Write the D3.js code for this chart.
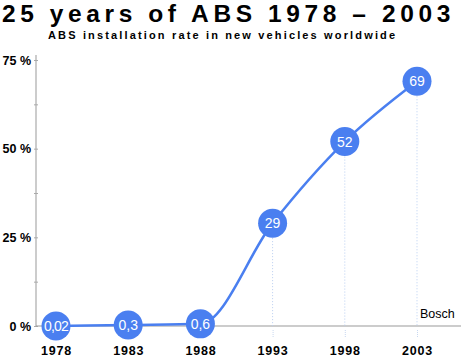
<!DOCTYPE html>
<html><head><meta charset="utf-8">
<script src="https://cdn.jsdelivr.net/npm/d3@7"></script>
<style>body{margin:0;background:#fff}svg{display:block;font-family:"Liberation Sans",Arial,sans-serif}</style>
</head><body>
<svg id="c" width="461" height="358"></svg>
<script>
const years = ["1978","1983","1988","1993","1998","2003"];
const values = [0.02, 0.3, 0.6, 29, 52, 69];
const valueLabels = ["0,02","0,3","0,6","29","52","69"];
const yTicks = [0, 12.5, 25, 37.5, 50, 62.5, 75];
const yTickLabels = {0:"0 %",25:"25 %",50:"50 %",75:"75 %"};

const svg = d3.select("#c");
const blue = "#4a7ff0";
const x = d3.scalePoint().domain(years).range([56, 417]);
const y = d3.scaleLinear().domain([0, 75]).range([326, 60]);

svg.append("text").attr("x", 2).attr("y", 22).attr("font-size", 24.5).attr("font-weight", "bold")
  .attr("letter-spacing", 4.6).attr("fill", "#000").text("25 years of ABS 1978 – 2003");
svg.append("text").attr("x", 48).attr("y", 39).attr("font-size", 11)
  .attr("font-weight", "bold").attr("letter-spacing", 2.15).attr("fill", "#000").text("ABS installation rate in new vehicles worldwide");

// y axis
const yAxis = d3.axisLeft(y).tickValues(yTicks).tickSize(3).tickFormat(d => yTickLabels[d] || "");
const gy = svg.append("g").attr("transform", "translate(36,0)").call(yAxis);
gy.select(".domain").attr("stroke", "#999").attr("d", "M0,55V326");
gy.selectAll(".tick line").attr("stroke", "#aaa").attr("x2", 2).attr("x1", -2);
gy.selectAll(".tick text").attr("font-size", 12.5).attr("font-weight", "bold").attr("fill", "#000")
  .attr("x", -5).attr("font-family", "Liberation Sans, Arial, sans-serif");

// x axis
const xAxis = d3.axisBottom(x).tickSize(0).tickPadding(20);
const gx = svg.append("g").attr("transform", "translate(0,326)").call(xAxis);
gx.select(".domain").attr("stroke", "#999").attr("d", "M36,0H461");
gx.selectAll(".tick text").attr("font-size", 12.5).attr("font-weight", "bold").attr("fill", "#000")
  .attr("letter-spacing", 0.8).attr("font-family", "Liberation Sans, Arial, sans-serif");
gx.selectAll(".tick").append("line").attr("y1", 4).attr("y2", 12).attr("stroke", "#c8d8f0").attr("stroke-dasharray", "1,1");

// dotted drop lines
const data = years.map((yr, i) => ({yr, v: values[i], lab: valueLabels[i]}));
svg.append("g").selectAll("line").data(data).join("line")
  .attr("x1", d => x(d.yr)).attr("x2", d => x(d.yr))
  .attr("y1", d => y(d.v)).attr("y2", 326)
  .attr("stroke", "#b8cdf0").attr("stroke-dasharray", "1,2").attr("stroke-width", 1);

svg.append("text").attr("x", 420).attr("y", 318).attr("font-size", 12.5).attr("fill", "#000").text("Bosch");

// line
const line = d3.line().x(d => x(d.yr)).y(d => y(d.v)).curve(d3.curveMonotoneX);
svg.append("path").datum(data).attr("d", line).attr("fill", "none").attr("stroke", blue).attr("stroke-width", 2.5);

const g = svg.append("g").selectAll("g").data(data).join("g")
  .attr("transform", d => `translate(${x(d.yr)},${y(d.v)})`);
g.append("circle").attr("r", 14.5).attr("fill", blue);
g.append("text").attr("text-anchor", "middle").attr("dy", "0.36em").attr("font-size", 14)
  .attr("fill", "#fff").attr("letter-spacing", d => d.lab.length > 3 ? -0.8 : 0).text(d => d.lab);
</script>
</body></html>
